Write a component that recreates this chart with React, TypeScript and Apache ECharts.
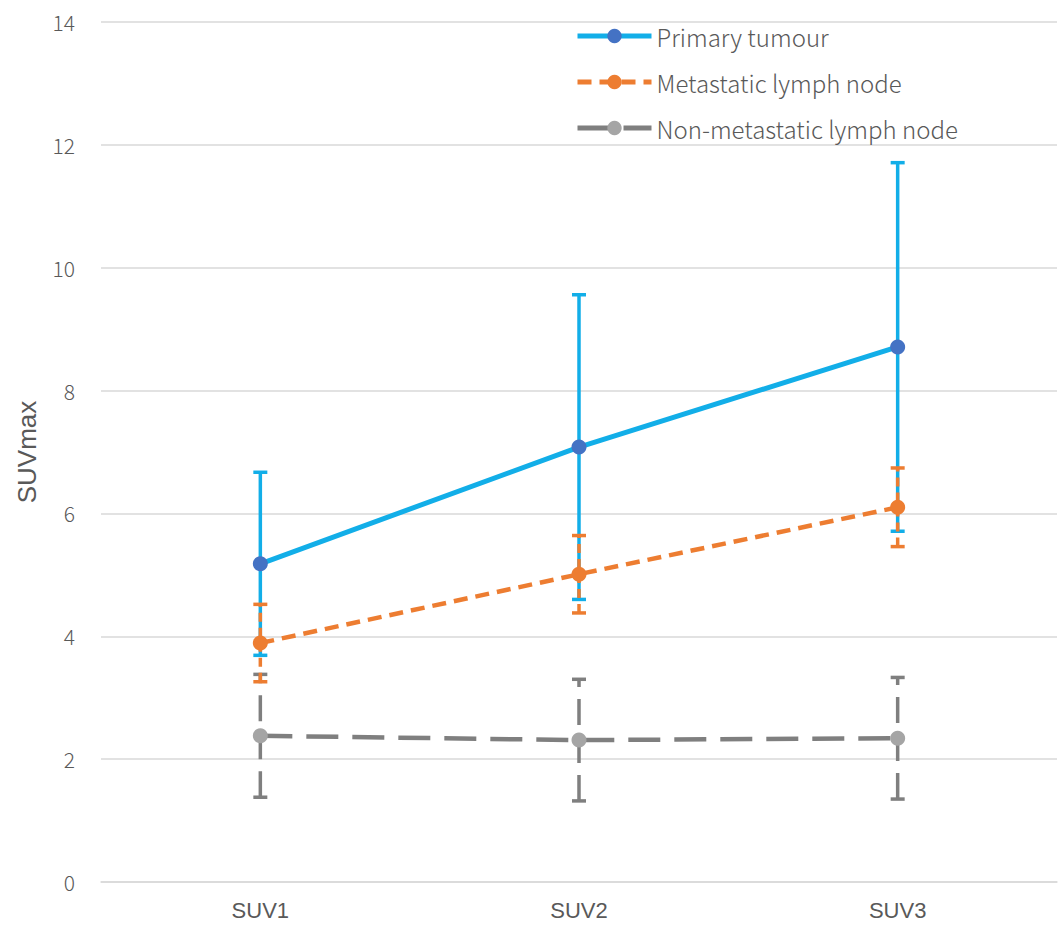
import React, { useEffect, useRef } from "react";
import * as echarts from "echarts";

const categories = ["SUV1", "SUV2", "SUV3"];
const seriesNames = ["Primary tumour", "Metastatic lymph node", "Non-metastatic lymph node"];
const primaryMean = [5.18, 7.08, 8.71];
const primaryErr = [1.49, 2.48, 3.0];
const metaMean = [3.89, 5.01, 6.1];
const metaErr = [0.63, 0.63, 0.64];
const nonMetaMean = [2.38, 2.31, 2.34];
const nonMetaErr = [1.0, 0.99, 0.99];
const yTicks = [0, 2, 4, 6, 8, 10, 12, 14];

const errData = (mean: number[], err: number[]) =>
  mean.map((m, i) => [i, m - err[i], m + err[i]]);

const errorSeries = (data: number[][], color: string, dash: number[] | null, width: number, z: number) => ({
  type: "custom",
  z,
  silent: true,
  data,
  encode: { x: 0, y: [1, 2] },
  renderItem: (params: any, api: any) => {
    const x = api.value(0);
    const lo = api.coord([x, api.value(1)]);
    const hi = api.coord([x, api.value(2)]);
    const half = 7;
    const style: any = { stroke: color, lineWidth: width, fill: "none" };
    if (dash) style.lineDash = dash;
    return {
      type: "group",
      children: [
        { type: "line", shape: { x1: lo[0], y1: lo[1], x2: hi[0], y2: hi[1] }, style },
        { type: "line", shape: { x1: hi[0] - half, y1: hi[1], x2: hi[0] + half, y2: hi[1] }, style: { stroke: color, lineWidth: width } },
        { type: "line", shape: { x1: lo[0] - half, y1: lo[1], x2: lo[0] + half, y2: lo[1] }, style: { stroke: color, lineWidth: width } },
      ],
    };
  },
});

export default function App() {
  const ref = useRef<HTMLDivElement>(null);
  useEffect(() => {
    document.body.style.margin = "0";
    const chart = echarts.init(ref.current!, null, { renderer: "svg" });
    chart.setOption({
      animation: false,
      backgroundColor: "#ffffff",
      grid: { left: 101, right: 6, top: 22, bottom: 55 },
      legend: {
        data: seriesNames,
        orient: "vertical",
        left: 570,
        top: 19,
        itemWidth: 74,
        itemHeight: 18,
        itemGap: 22,
        lineStyle: { width: 5 },
        textStyle: { fontSize: 24, color: "#595959", fontFamily: "Noto Sans CJK JP", fontWeight: 300, lineHeight: 24 },
      },
      xAxis: {
        type: "category",
        data: categories,
        boundaryGap: true,
        axisLine: { lineStyle: { color: "#D9D9D9", width: 1.5 } },
        axisTick: { show: false },
        axisLabel: { fontSize: 22, color: "#595959", fontFamily: "Liberation Sans", margin: 17 },
      },
      yAxis: {
        type: "value",
        min: yTicks[0],
        max: yTicks[yTicks.length - 1],
        interval: 2,
        name: "SUVmax",
        nameLocation: "middle",
        nameGap: 61,
        nameRotate: 90,
        nameTextStyle: { fontSize: 26, color: "#595959", fontFamily: "Liberation Sans" },
        axisLine: { show: false },
        axisTick: { show: false },
        splitLine: { lineStyle: { color: "#D9D9D9", width: 1.5 } },
        axisLabel: { fontSize: 21, color: "#595959", fontFamily: "Noto Sans CJK JP", fontWeight: 300, margin: 26 },
      },
      series: [
        errorSeries(errData(nonMetaMean, nonMetaErr), "#7F7F7F", [26, 12], 3.5, 2),
        errorSeries(errData(primaryMean, primaryErr), "#12AEE8", null, 3.5, 3),
        {
          name: seriesNames[2],
          type: "line",
          z: 4,
          data: nonMetaMean,
          symbol: "circle",
          symbolSize: 15,
          itemStyle: { color: "#A5A5A5" },
          lineStyle: { color: "#7F7F7F", width: 4.5, type: [32, 14] },
        },
        {
          name: seriesNames[0],
          type: "line",
          z: 5,
          data: primaryMean,
          symbol: "circle",
          symbolSize: 15,
          itemStyle: { color: "#4472C4" },
          lineStyle: { color: "#12AEE8", width: 5 },
        },
        errorSeries(errData(metaMean, metaErr), "#ED7D31", [9, 6], 3.5, 6),
        {
          name: seriesNames[1],
          type: "line",
          z: 7,
          data: metaMean,
          symbol: "circle",
          symbolSize: 15,
          itemStyle: { color: "#ED7D31" },
          lineStyle: { color: "#ED7D31", width: 4.5, type: [14, 8] },
        },
      ],
    });
    return () => chart.dispose();
  }, []);
  return <div ref={ref} style={{ width: 1063, height: 937 }} />;
}
